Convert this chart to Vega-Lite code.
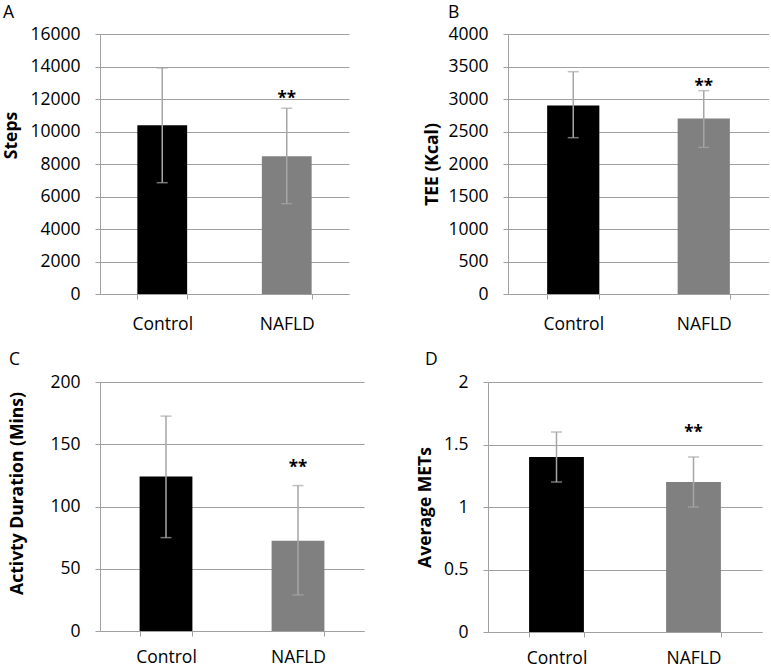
{
  "$schema": "https://vega.github.io/schema/vega-lite/v6.json",
  "padding": {"left": 2, "top": 3, "right": 0, "bottom": 0},
  "background": "white",
  "config": {
    "view": {"stroke": null},
    "font": "Open Sans",
    "axis": {"labelOverlap": false},
    "axisQuantitative": {"labelOverlap": false},
    "axisY": {"labelFont": "Open Sans", "labelFontSize": 17.5, "labelColor": "#000000", "labelPadding": 15, "labelOverlap": false, "tickSize": 5, "tickColor": "#a0a0a0", "domainColor": "#a0a0a0", "gridColor": "#a0a0a0", "grid": true, "titleFont": "Open Sans", "titleFontSize": 17.5, "titleFontWeight": "bold", "titleColor": "#000000", "titleBaseline": "alphabetic", "titleAngle": -90},
    "axisX": {"labelFont": "Open Sans", "labelFontSize": 17.5, "labelColor": "#000000", "labelAngle": 0, "labelBaseline": "alphabetic", "labelPadding": 30, "labelOverlap": false, "tickSize": 5, "tickColor": "#a0a0a0", "domainColor": "#a0a0a0", "grid": false, "tickBand": "extent", "title": null},
    "title": {"font": "Open Sans", "fontSize": 17.5, "fontWeight": "normal", "color": "#000000", "anchor": "start", "frame": "group", "baseline": "alphabetic"}
  },
  "vconcat": [
    {
      "hconcat": [
        {
          "width": 249, "height": 260,
          "title": {"text": "A", "dx": -97, "offset": 4},
          "data": {"values": [
            {"group": "Control", "mean": 10380, "lo": 6850, "hi": 13910, "star": "", "star_y": null},
            {"group": "NAFLD", "mean": 8480, "lo": 5560, "hi": 11430, "star": "**", "star_y": 11720}
          ]},
          "encoding": {"x": {"field": "group", "type": "nominal", "sort": ["Control", "NAFLD"], "scale": {"paddingInner": 0.6, "paddingOuter": 0.3}}},
          "layer": [
            {"mark": {"type": "bar"}, "encoding": {
              "y": {"field": "mean", "type": "quantitative", "title": "Steps", "scale": {"domain": [0, 16000]}, "axis": {"values": [0, 2000, 4000, 6000, 8000, 10000, 12000, 14000, 16000], "format": "d", "labelOverlap": false, "titleX": -84, "titleY": 101}},
              "color": {"field": "group", "type": "nominal", "scale": {"domain": ["Control", "NAFLD"], "range": ["#000000", "#808080"]}, "legend": null}}},
            {"mark": {"type": "rule", "color": "#a6a6a6", "strokeWidth": 1.5}, "encoding": {"y": {"field": "lo", "type": "quantitative", "title": "Steps", "axis": {"values": [0, 2000, 4000, 6000, 8000, 10000, 12000, 14000, 16000], "format": "d", "labelOverlap": false, "titleX": -84, "titleY": 101}}, "y2": {"field": "hi"}}},
            {"mark": {"type": "tick", "color": "#a6a6a6", "size": 11, "thickness": 1.5}, "encoding": {"y": {"field": "lo", "type": "quantitative", "title": "Steps", "axis": {"values": [0, 2000, 4000, 6000, 8000, 10000, 12000, 14000, 16000], "format": "d", "labelOverlap": false, "titleX": -84, "titleY": 101}}}},
            {"mark": {"type": "tick", "color": "#a6a6a6", "size": 11, "thickness": 1.5}, "encoding": {"y": {"field": "hi", "type": "quantitative", "title": "Steps", "axis": {"values": [0, 2000, 4000, 6000, 8000, 10000, 12000, 14000, 16000], "format": "d", "labelOverlap": false, "titleX": -84, "titleY": 101}}}},
            {"mark": {"type": "text", "font": "Open Sans", "fontWeight": "bold", "fontSize": 17, "baseline": "alphabetic", "color": "#000000"}, "encoding": {"y": {"field": "star_y", "type": "quantitative", "title": "Steps", "axis": {"values": [0, 2000, 4000, 6000, 8000, 10000, 12000, 14000, 16000], "format": "d", "labelOverlap": false, "titleX": -84, "titleY": 101}}, "text": {"field": "star"}}}
          ]
        },
        {
          "width": 261, "height": 260,
          "title": {"text": "B", "dx": -60, "offset": 4},
          "data": {"values": [
            {"group": "Control", "mean": 2900, "lo": 2405, "hi": 3420, "star": "", "star_y": null},
            {"group": "NAFLD", "mean": 2700, "lo": 2256, "hi": 3128, "star": "**", "star_y": 3115}
          ]},
          "encoding": {"x": {"field": "group", "type": "nominal", "sort": ["Control", "NAFLD"], "scale": {"paddingInner": 0.6, "paddingOuter": 0.3}}},
          "layer": [
            {"mark": {"type": "bar"}, "encoding": {
              "y": {"field": "mean", "type": "quantitative", "title": "TEE (Kcal)", "scale": {"domain": [0, 4000]}, "axis": {"values": [0, 500, 1000, 1500, 2000, 2500, 3000, 3500, 4000], "format": "d", "labelOverlap": false, "titleX": -71}},
              "color": {"field": "group", "type": "nominal", "scale": {"domain": ["Control", "NAFLD"], "range": ["#000000", "#808080"]}, "legend": null}}},
            {"mark": {"type": "rule", "color": "#a6a6a6", "strokeWidth": 1.5}, "encoding": {"y": {"field": "lo", "type": "quantitative", "title": "TEE (Kcal)", "axis": {"values": [0, 500, 1000, 1500, 2000, 2500, 3000, 3500, 4000], "format": "d", "labelOverlap": false, "titleX": -71}}, "y2": {"field": "hi"}}},
            {"mark": {"type": "tick", "color": "#a6a6a6", "size": 11, "thickness": 1.5}, "encoding": {"y": {"field": "lo", "type": "quantitative", "title": "TEE (Kcal)", "axis": {"values": [0, 500, 1000, 1500, 2000, 2500, 3000, 3500, 4000], "format": "d", "labelOverlap": false, "titleX": -71}}}},
            {"mark": {"type": "tick", "color": "#a6a6a6", "size": 11, "thickness": 1.5}, "encoding": {"y": {"field": "hi", "type": "quantitative", "title": "TEE (Kcal)", "axis": {"values": [0, 500, 1000, 1500, 2000, 2500, 3000, 3500, 4000], "format": "d", "labelOverlap": false, "titleX": -71}}}},
            {"mark": {"type": "text", "font": "Open Sans", "fontWeight": "bold", "fontSize": 17, "baseline": "alphabetic", "color": "#000000"}, "encoding": {"y": {"field": "star_y", "type": "quantitative", "title": "TEE (Kcal)", "axis": {"values": [0, 500, 1000, 1500, 2000, 2500, 3000, 3500, 4000], "format": "d", "labelOverlap": false, "titleX": -71}}, "text": {"field": "star"}}}
          ]
        }
      ],
      "spacing": 74, "align": "none"
    },
    {
      "hconcat": [
        {
          "width": 264, "height": 249,
          "title": {"text": "C", "dx": -91, "offset": 5},
          "data": {"values": [
            {"group": "Control", "mean": 124, "lo": 75, "hi": 172.6, "star": "", "star_y": null},
            {"group": "NAFLD", "mean": 72.5, "lo": 29, "hi": 116.8, "star": "**", "star_y": 126.9}
          ]},
          "encoding": {"x": {"field": "group", "type": "nominal", "sort": ["Control", "NAFLD"], "scale": {"paddingInner": 0.6, "paddingOuter": 0.3}, "axis": {"labelPadding": 26}}},
          "layer": [
            {"mark": {"type": "bar"}, "encoding": {
              "y": {"field": "mean", "type": "quantitative", "title": "Activty Duration (Mins)", "scale": {"domain": [0, 200]}, "axis": {"values": [0, 50, 100, 150, 200], "format": "d", "labelOverlap": false, "titleX": -78, "titleY": 111}},
              "color": {"field": "group", "type": "nominal", "scale": {"domain": ["Control", "NAFLD"], "range": ["#000000", "#808080"]}, "legend": null}}},
            {"mark": {"type": "rule", "color": "#a6a6a6", "strokeWidth": 1.5}, "encoding": {"y": {"field": "lo", "type": "quantitative", "title": "Activty Duration (Mins)"}, "y2": {"field": "hi"}}},
            {"mark": {"type": "tick", "color": "#a6a6a6", "size": 11, "thickness": 1.5}, "encoding": {"y": {"field": "lo", "type": "quantitative", "title": "Activty Duration (Mins)"}}},
            {"mark": {"type": "tick", "color": "#a6a6a6", "size": 11, "thickness": 1.5}, "encoding": {"y": {"field": "hi", "type": "quantitative", "title": "Activty Duration (Mins)"}}},
            {"mark": {"type": "text", "font": "Open Sans", "fontWeight": "bold", "fontSize": 17, "baseline": "alphabetic", "color": "#000000"}, "encoding": {"y": {"field": "star_y", "type": "quantitative", "title": "Activty Duration (Mins)"}, "text": {"field": "star"}}}
          ]
        },
        {
          "width": 274, "height": 250,
          "title": {"text": "D", "dx": -63, "offset": 5},
          "data": {"values": [
            {"group": "Control", "mean": 1.4, "lo": 1.2, "hi": 1.6, "star": "", "star_y": null},
            {"group": "NAFLD", "mean": 1.2, "lo": 1.0, "hi": 1.4, "star": "**", "star_y": 1.554}
          ]},
          "encoding": {"x": {"field": "group", "type": "nominal", "sort": ["Control", "NAFLD"], "scale": {"paddingInner": 0.6, "paddingOuter": 0.3}, "axis": {"labelPadding": 26}}},
          "layer": [
            {"mark": {"type": "bar"}, "encoding": {
              "y": {"field": "mean", "type": "quantitative", "title": "Average METs", "scale": {"domain": [0, 2]}, "axis": {"values": [0, 0.5, 1, 1.5, 2], "format": "~g", "labelOverlap": false, "titleX": -58}},
              "color": {"field": "group", "type": "nominal", "scale": {"domain": ["Control", "NAFLD"], "range": ["#000000", "#808080"]}, "legend": null}}},
            {"mark": {"type": "rule", "color": "#a6a6a6", "strokeWidth": 1.5}, "encoding": {"y": {"field": "lo", "type": "quantitative", "title": "Average METs"}, "y2": {"field": "hi"}}},
            {"mark": {"type": "tick", "color": "#a6a6a6", "size": 11, "thickness": 1.5}, "encoding": {"y": {"field": "lo", "type": "quantitative", "title": "Average METs"}}},
            {"mark": {"type": "tick", "color": "#a6a6a6", "size": 11, "thickness": 1.5}, "encoding": {"y": {"field": "hi", "type": "quantitative", "title": "Average METs"}}},
            {"mark": {"type": "text", "font": "Open Sans", "fontWeight": "bold", "fontSize": 17, "baseline": "alphabetic", "color": "#000000"}, "encoding": {"y": {"field": "star_y", "type": "quantitative", "title": "Average METs"}, "text": {"field": "star"}}}
          ]
        }
      ],
      "spacing": 51, "align": "none"
    }
  ],
  "spacing": 17,
  "align": "none"
}
